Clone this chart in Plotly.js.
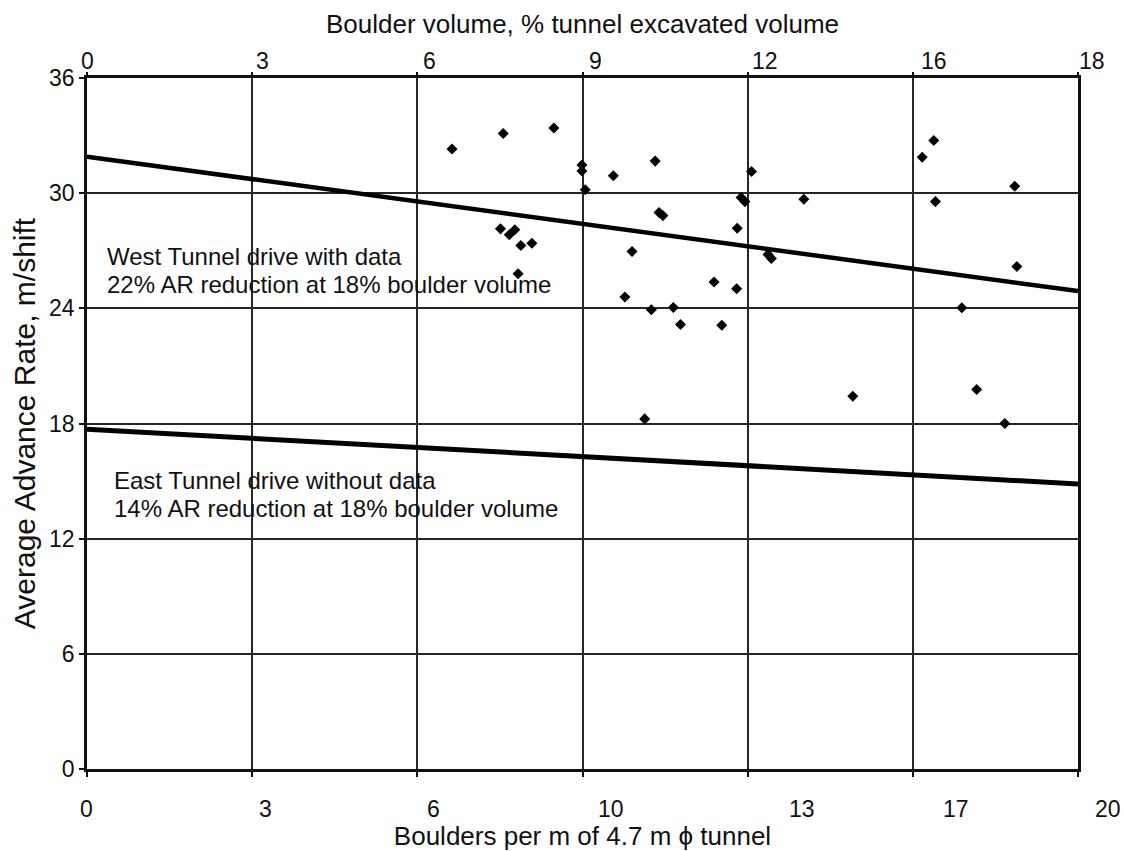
<!DOCTYPE html>
<html>
<head>
<meta charset="utf-8">
<script src="https://cdn.plot.ly/plotly-3.0.1.min.js"></script>
<style>
  html, body { margin: 0; padding: 0; background: #ffffff; }
  #chart { width: 1124px; height: 851px; }
</style>
</head>
<body>
<div id="chart"></div>
<script>
// ---- Axis tick values / labels ----
const volumeTicks = [0, 3, 6, 9, 12, 15, 18];               // gridline positions on boulder-volume scale
const topTickText = ['0', '3', '6', '9', '12', '16', '18'];  // Boulder volume, % tunnel excavated volume
const bottomTickText = ['0', '3', '6', '10', '13', '17', '20']; // Boulders per m of 4.7 m tunnel
const rateTicks = [0, 6, 12, 18, 24, 30, 36];

// ---- West tunnel data (boulder volume %, advance rate m/shift) ----
const boulderVolume = [
  6.63, 7.56, 8.48, 8.99, 8.99, 9.05, 9.56, 10.32, 10.39, 10.46, 11.81, 11.88, 11.95, 12.07, 13.02,
  7.51, 7.67, 7.77, 7.88, 8.08, 9.90, 7.83, 9.77, 10.25, 10.65, 10.78, 11.39, 11.80, 11.53, 12.37, 12.43,
  15.17, 15.38, 16.85, 15.41, 16.89, 15.89, 10.13, 13.91, 16.16, 16.67
];
const advanceRate = [
  32.30, 33.11, 33.40, 31.47, 31.15, 30.18, 30.91, 31.67, 28.99, 28.83, 28.17, 29.77, 29.56, 31.13, 29.68,
  28.14, 27.83, 28.09, 27.27, 27.39, 26.96, 25.80, 24.59, 23.93, 24.04, 23.16, 25.37, 25.02, 23.12, 26.81, 26.60,
  31.87, 32.74, 30.36, 29.56, 26.18, 24.03, 18.24, 19.42, 19.77, 18.00
];

// ---- Trend lines ----
const trendVolume = [0, 18];
const westTrendRate = [31.9, 24.9];
const eastTrendRate = [17.7, 14.85];

// ---- Text notes ----
const westNote = ['West Tunnel drive with data', '22% AR reduction at 18% boulder volume'];
const eastNote = ['East Tunnel drive without data', '14% AR reduction at 18% boulder volume'];

const FONT = 'Liberation Sans, Arial, Helvetica, sans-serif';
const INK = '#111111';
const GRID = '#262626';

const traces = [
  {
    type: 'scatter', mode: 'markers', xaxis: 'x', yaxis: 'y',
    x: boulderVolume, y: advanceRate,
    marker: { symbol: 'diamond', size: 8.5, color: '#000000', line: { width: 0 } },
    hoverinfo: 'x+y'
  },
  {
    type: 'scatter', mode: 'lines', xaxis: 'x2', yaxis: 'y',
    x: trendVolume, y: westTrendRate,
    line: { color: '#000000', width: 4.5 }
  },
  {
    type: 'scatter', mode: 'lines', xaxis: 'x2', yaxis: 'y',
    x: trendVolume, y: eastTrendRate,
    line: { color: '#000000', width: 5 }
  }
];

// pixel nudges of the tick labels (styling only, as in the scanned original)
const topLabelShift = [0, 10, 12, 13, 17, 21, 14];
const bottomLabelShift = [-1, 13, 16, 28, 54, 43, 30];

const annotations = [];
volumeTicks.forEach((v, i) => {
  annotations.push({
    x: v, xref: 'x', y: 1, yref: 'paper', text: topTickText[i], showarrow: false,
    xanchor: 'center', yanchor: 'middle', xshift: topLabelShift[i], yshift: 17,
    font: { family: FONT, size: 23, color: INK }
  });
  annotations.push({
    x: v, xref: 'x', y: 0, yref: 'paper', text: bottomTickText[i], showarrow: false,
    xanchor: 'center', yanchor: 'middle', xshift: bottomLabelShift[i], yshift: -40,
    font: { family: FONT, size: 23, color: INK }
  });
});

const notePos = [
  { lines: westNote, x: 0.33, y: [26.7, 25.25] },
  { lines: eastNote, x: 0.45, y: [15.03, 13.56] }
];
notePos.forEach(n => {
  n.lines.forEach((t, k) => {
    annotations.push({
      x: n.x, xref: 'x', y: n.y[k], yref: 'y', text: t, showarrow: false,
      xanchor: 'left', yanchor: 'middle',
      font: { family: FONT, size: 24, color: INK }
    });
  });
});

const layout = {
  width: 1124, height: 851,
  margin: { l: 87, r: 46, t: 78, b: 82, pad: 0 },
  paper_bgcolor: '#ffffff', plot_bgcolor: '#ffffff',
  showlegend: false,
  font: { family: FONT, color: INK, size: 23 },
  xaxis: {
    range: [0, 18], tickvals: volumeTicks, showticklabels: false,
    ticks: 'outside', ticklen: 5, tickwidth: 2, tickcolor: INK,
    showgrid: true, gridcolor: GRID, gridwidth: 2, zeroline: false,
    showline: true, linecolor: INK, linewidth: 2.8, mirror: true,
    title: { text: 'Boulders per m of 4.7 m ϕ tunnel', font: { family: FONT, size: 26, color: INK }, standoff: 54 }
  },
  xaxis2: {
    range: [0, 18], overlaying: 'x', side: 'top', anchor: 'y',
    tickvals: volumeTicks, showticklabels: false,
    ticks: 'outside', ticklen: 5, tickwidth: 2, tickcolor: INK,
    showgrid: false, zeroline: false, showline: false,
    title: { text: 'Boulder volume, % tunnel excavated volume', font: { family: FONT, size: 26, color: INK }, standoff: 30 }
  },
  yaxis: {
    range: [0, 36], tickvals: rateTicks, ticktext: rateTicks.map(String),
    ticks: 'outside', ticklen: 5, tickwidth: 2, tickcolor: INK,
    tickfont: { family: FONT, size: 23, color: INK },
    showgrid: true, gridcolor: GRID, gridwidth: 2, zeroline: false,
    showline: true, linecolor: INK, linewidth: 2.8, mirror: true,
    title: { text: 'Average Advance Rate, m/shift', font: { family: FONT, size: 30, color: INK }, standoff: 5 }
  },
  annotations: annotations
};

Plotly.newPlot('chart', traces, layout, { displayModeBar: false, staticPlot: true });
</script>
</body>
</html>
